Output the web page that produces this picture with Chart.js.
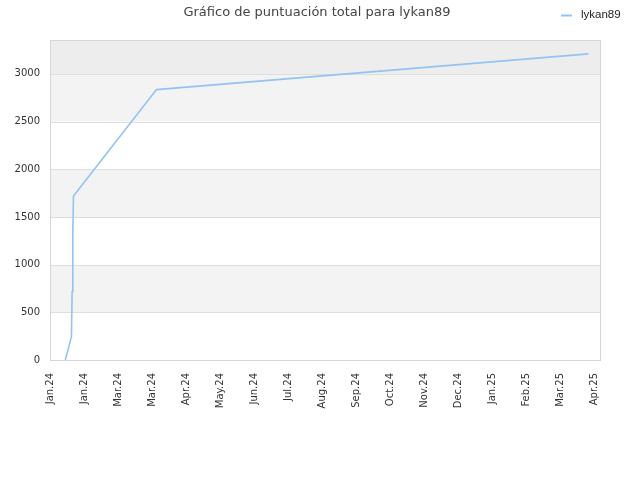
<!DOCTYPE html>
<html>
<head>
<meta charset="utf-8">
<script src="https://cdn.jsdelivr.net/npm/chart.js@4"></script>
<style>
  html, body { margin: 0; padding: 0; background: #fff; }
  #wrap { width: 640px; height: 480px; }
</style>
</head>
<body>
<div id="wrap"><canvas id="scoreChart" width="640" height="480"></canvas></div>
<script>
// --- Chart data ---
const TITLE = 'Gráfico de puntuación total para lykan89';
const SERIES_NAME = 'lykan89';
const X_LABELS = ['Jan.24', 'Jan.24', 'Mar.24', 'Mar.24', 'Apr.24', 'May.24', 'Jun.24', 'Jul.24',
  'Aug.24', 'Sep.24', 'Oct.24', 'Nov.24', 'Dec.24', 'Jan.25', 'Feb.25', 'Mar.25', 'Apr.25'];
// positions along the axis, in tick units (0 = first label)
const X_POS = [0.45, 0.63, 0.65, 0.67, 0.69, 3.13, 15.82];
const SCORES = [0, 244, 716, 1335, 1720, 2835, 3210];
const Y_TICKS = [0, 500, 1000, 1500, 2000, 2500, 3000];

const LINE_COLOR = '#94c3f2';

// alternating background bands behind the plot
const bandsPlugin = {
  id: 'bands',
  beforeDatasetsDraw(chart) {
    const { ctx, chartArea: a, scales: { y } } = chart;
    ctx.save();
    for (let i = 0; i < Y_TICKS.length; i++) {
      const lo = Y_TICKS[i];
      const hi = i + 1 < Y_TICKS.length ? Y_TICKS[i + 1] : y.max;
      let color = i % 2 ? '#f3f3f3' : '#ffffff';
      if (i === Y_TICKS.length - 1) color = '#ededed';
      const top = y.getPixelForValue(hi), bot = y.getPixelForValue(lo);
      ctx.fillStyle = color;
      ctx.fillRect(a.left, top, a.right - a.left, bot - top);
    }
    // grid lines
    ctx.strokeStyle = '#dedede';
    ctx.lineWidth = 1;
    Y_TICKS.forEach(v => {
      const py = Math.round(y.getPixelForValue(v)) + 0.5;
      ctx.beginPath(); ctx.moveTo(a.left, py); ctx.lineTo(a.right, py); ctx.stroke();
    });
    ctx.strokeStyle = '#d6d6d6';
    ctx.strokeRect(Math.round(a.left) + 0.5, Math.round(a.top) + 0.5, Math.round(a.right - a.left), Math.round(a.bottom - a.top));
    ctx.restore();
  },
  afterDraw(chart) {
    const { ctx } = chart;
    ctx.save();
    // title
    ctx.fillStyle = '#444';
    ctx.font = '13px "DejaVu Sans"';
    ctx.textAlign = 'center';
    ctx.textBaseline = 'middle';
    ctx.fillText(TITLE, 317, 13);
    // legend
    ctx.strokeStyle = LINE_COLOR;
    ctx.lineWidth = 2;
    ctx.beginPath(); ctx.moveTo(561, 15.5); ctx.lineTo(572, 15.5); ctx.stroke();
    ctx.fillStyle = '#222';
    ctx.font = '11.5px "Liberation Sans"';
    ctx.textAlign = 'left';
    ctx.fillText(SERIES_NAME, 581, 15);
    ctx.restore();
  }
};

const ctx = document.getElementById('scoreChart').getContext('2d');
new Chart(ctx, {
  type: 'line',
  data: {
    datasets: [{
      label: SERIES_NAME,
      data: X_POS.map((x, i) => ({ x, y: SCORES[i] })),
      borderColor: LINE_COLOR,
      backgroundColor: LINE_COLOR,
      borderWidth: 1.6,
      pointRadius: 0,
      tension: 0,
      fill: false
    }]
  },
  options: {
    responsive: false,
    animation: false,
    layout: { padding: { top: 40, left: 0, right: 40, bottom: 0 } },
    plugins: {
      legend: { display: false },
      title: { display: false },
      tooltip: { enabled: false }
    },
    scales: {
      x: {
        type: 'linear',
        min: 0,
        max: 16.16,
        grid: { display: false, drawTicks: false },
        border: { display: false },
        afterFit: s => { s.height = 120; },
        afterBuildTicks: s => { s.ticks = X_LABELS.map((_, i) => ({ value: i })); },
        ticks: {
          autoSkip: false,
          minRotation: 90,
          maxRotation: 90,
          padding: 13,
          color: '#333',
          font: { family: 'DejaVu Sans', size: 10 },
          callback: v => X_LABELS[v]
        }
      },
      y: {
        min: 0,
        max: 3355,
        grid: { display: false, drawTicks: false },
        border: { display: false },
        afterFit: s => { s.width = 50; },
        afterBuildTicks: s => { s.ticks = Y_TICKS.map(v => ({ value: v })); },
        ticks: {
          padding: 10,
          color: '#333',
          font: { family: 'DejaVu Sans', size: 10 },
          callback: v => String(v)
        }
      }
    }
  },
  plugins: [bandsPlugin]
});
</script>
</body>
</html>
